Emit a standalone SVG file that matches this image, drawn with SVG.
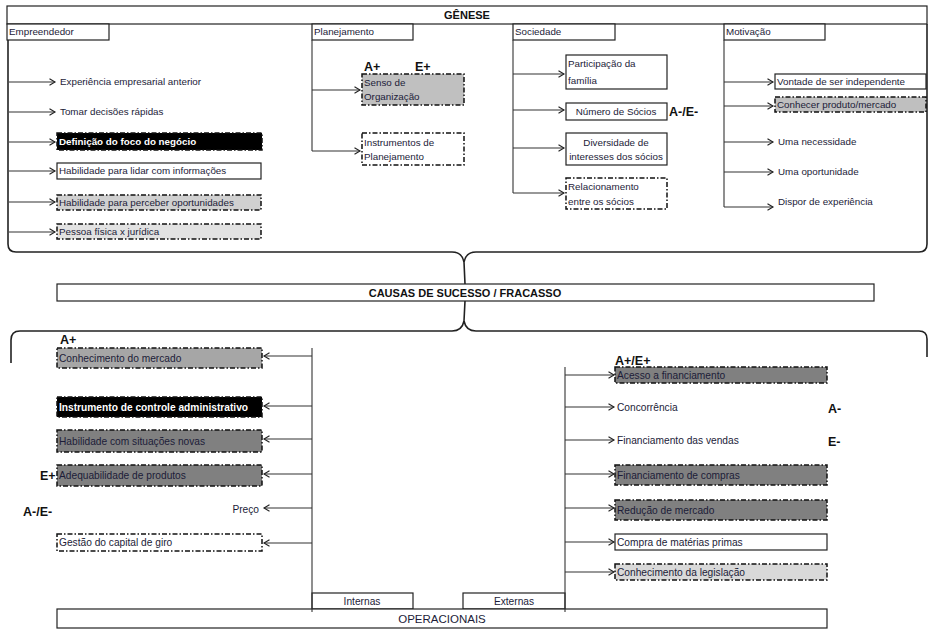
<svg xmlns="http://www.w3.org/2000/svg" width="929" height="630" viewBox="0 0 929 630">
<style>
.bg{fill:#fff}
.frame{fill:none;stroke:#222;stroke-width:1.6}
.hdr{fill:#fff;stroke:#222;stroke-width:1.2}
.solid{stroke:#222;stroke-width:1.2}
.dd{stroke:#111;stroke-width:1.5;stroke-dasharray:5 2 1.5 2}
.t{font-family:"Liberation Sans",Arial,sans-serif;font-size:9.8px;fill:#1c1c38}
.tb{font-family:"Liberation Sans",Arial,sans-serif;font-size:10.2px;fill:#1c1c38}
.w{fill:#fff;font-weight:bold}
.b{font-family:"Liberation Sans",Arial,sans-serif;font-weight:bold;font-size:12.5px;fill:#111}
.h{font-family:"Liberation Sans",Arial,sans-serif;font-weight:bold;font-size:11px;fill:#111}
.c{text-anchor:middle}
#connectors line{stroke:#333;stroke-width:1.1}
</style>
<defs>
<marker id="ah" markerWidth="8" markerHeight="8" refX="6" refY="4" orient="auto" markerUnits="userSpaceOnUse"><path d="M0.5,0.8 L6,4 L0.5,7.2" fill="none" stroke="#222" stroke-width="1.1"/></marker>
</defs>
<rect class="bg" width="929" height="630"/>

<g id="frames">
<path class="frame" d="M8,24 V244 Q8,252 16,252 H452 Q462,252 464,262 L465,284 M464,262 Q466,252 476,252 H919 Q927,252 927,244 V24"/>
<path class="frame" d="M465,301 L464,321 Q462,331 452,331 H20 Q11,331 11,340 V363 M464,321 Q466,331 476,331 H919 Q927,331 927,339 V357"/>
</g>

<g id="genese"><rect class="hdr" x="7" y="6" width="920" height="18"/><text class="h c" x="467" y="19">GÊNESE</text></g>
<g id="empreendedor"><rect class="hdr" x="7" y="24" width="102" height="16"/><text class="t" x="9" y="35">Empreendedor</text></g>
<g id="planejamento"><rect class="hdr" x="312" y="24" width="101" height="16"/><text class="t" x="314" y="35">Planejamento</text></g>
<g id="sociedade"><rect class="hdr" x="513" y="24" width="102" height="16"/><text class="t" x="515" y="35">Sociedade</text></g>
<g id="motivacao"><rect class="hdr" x="724" y="24" width="101" height="16"/><text class="t" x="726" y="35">Motivação</text></g>

<g id="e1"><text class="t" x="60" y="85">Experiência empresarial anterior</text></g>
<g id="e2"><text class="t" x="60" y="115">Tomar decisões rápidas</text></g>
<g id="e3"><rect class="dd" x="57" y="133" width="205" height="17" fill="#000"/><text class="t w" x="59" y="145">Definição do foco do negócio</text></g>
<g id="e4"><rect class="solid" x="57" y="163" width="204" height="16" fill="#fff"/><text class="t" x="59" y="174">Habilidade para lidar com informações</text></g>
<g id="e5"><rect class="dd" x="57" y="195" width="204" height="15" fill="#d0d0d0"/><text class="t" x="59" y="206">Habilidade para perceber oportunidades</text></g>
<g id="e6"><rect class="dd" x="57" y="224" width="204" height="15" fill="#e2e2e2"/><text class="t" x="59" y="235">Pessoa física x jurídica</text></g>

<g id="p1"><text class="b" x="364" y="71">A+</text><text class="b" x="415" y="71">E+</text><rect class="dd" x="362" y="74" width="102" height="31" fill="#c0c0c0"/><text class="t" x="364" y="86">Senso de</text><text class="t" x="364" y="100">Organização</text></g>
<g id="p2"><rect class="dd" x="362" y="133" width="102" height="32" fill="#fff"/><text class="t" x="364" y="146">Instrumentos de</text><text class="t" x="364" y="160">Planejamento</text></g>

<g id="s1"><rect class="solid" x="566" y="55" width="101" height="34" fill="#fff"/><text class="t" x="568" y="67">Participação da</text><text class="t" x="568" y="84">família</text></g>
<g id="s2"><rect class="solid" x="566" y="103" width="101" height="17" fill="#fff"/><text class="t c" x="616" y="115">Número de Sócios</text><text class="b" x="669" y="116">A-/E-</text></g>
<g id="s3"><rect class="solid" x="566" y="133" width="101" height="32" fill="#fff"/><text class="t c" x="616" y="146">Diversidade de</text><text class="t c" x="616" y="160">interesses dos sócios</text></g>
<g id="s4"><rect class="dd" x="566" y="178" width="101" height="31" fill="#fff"/><text class="t" x="568" y="190">Relacionamento</text><text class="t" x="568" y="205">entre os sócios</text></g>

<g id="m1"><rect class="solid" x="775" y="74" width="151" height="15" fill="#fff"/><text class="t" x="777" y="85">Vontade de ser independente</text></g>
<g id="m2"><rect class="dd" x="775" y="97" width="151" height="15" fill="#bfbfbf"/><text class="t" x="777" y="108">Conhecer produto/mercado</text></g>
<g id="m3"><text class="t" x="778" y="145">Uma necessidade</text></g>
<g id="m4"><text class="t" x="778" y="175">Uma oportunidade</text></g>
<g id="m5"><text class="t" x="778" y="205">Dispor de experiência</text></g>

<g id="causas"><rect class="hdr" x="57" y="284" width="817" height="17"/><text class="h c" x="465" y="297">CAUSAS DE SUCESSO / FRACASSO</text></g>

<g id="i1"><text class="b" x="60" y="344">A+</text><rect class="dd" x="57" y="348" width="205" height="20" fill="#a6a6a6"/><text class="tb" x="59" y="362">Conhecimento do mercado</text></g>
<g id="i2"><rect class="dd" x="57" y="397" width="205" height="20" fill="#000"/><text class="tb w" x="59" y="411">Instrumento de controle administrativo</text></g>
<g id="i3"><rect class="dd" x="57" y="430" width="205" height="22" fill="#808080"/><text class="tb" x="59" y="445">Habilidade com situações novas</text></g>
<g id="i4"><text class="b" x="40" y="480">E+</text><rect class="dd" x="57" y="465" width="205" height="21" fill="#808080"/><text class="tb" x="59" y="479">Adequabilidade de produtos</text></g>
<g id="i5"><text class="b" x="23" y="516">A-/E-</text><text class="tb" x="259" y="513" text-anchor="end">Preço</text></g>
<g id="i6"><rect class="dd" x="57" y="534" width="205" height="17" fill="#fff"/><text class="tb" x="59" y="546">Gestão do capital de giro</text></g>

<g id="x1"><text class="b" x="615" y="365">A+/E+</text><rect class="dd" x="615" y="367" width="212" height="16" fill="#808080"/><text class="tb" x="617" y="379">Acesso a financiamento</text></g>
<g id="x2"><text class="tb" x="617" y="411">Concorrência</text><text class="b" x="828" y="413">A-</text></g>
<g id="x3"><text class="tb" x="617" y="444">Financiamento das vendas</text><text class="b" x="828" y="446">E-</text></g>
<g id="x4"><rect class="dd" x="615" y="465" width="212" height="20" fill="#808080"/><text class="tb" x="617" y="479">Financiamento de compras</text></g>
<g id="x5"><rect class="dd" x="615" y="500" width="212" height="20" fill="#808080"/><text class="tb" x="617" y="514">Redução de mercado</text></g>
<g id="x6"><rect class="solid" x="615" y="534" width="212" height="16" fill="#fff"/><text class="tb" x="617" y="546">Compra de matérias primas</text></g>
<g id="x7"><rect class="dd" x="615" y="564" width="212" height="16" fill="#d9d9d9"/><text class="tb" x="617" y="576">Conhecimento da legislação</text></g>

<g id="internas"><rect class="hdr" x="312" y="593" width="101" height="16"/><text class="tb c" x="362" y="605">Internas</text></g>
<g id="externas"><rect class="hdr" x="463" y="593" width="102" height="16"/><text class="tb c" x="514" y="605">Externas</text></g>
<g id="operacionais"><rect class="hdr" x="57" y="609" width="770" height="19"/><text class="tb c" x="442" y="623" style="font-size:11.5px">OPERACIONAIS</text></g>

<g id="connectors">
<line x1="9" y1="82" x2="55" y2="82" marker-end="url(#ah)"/>
<line x1="9" y1="112" x2="55" y2="112" marker-end="url(#ah)"/>
<line x1="9" y1="142" x2="55" y2="142" marker-end="url(#ah)"/>
<line x1="9" y1="171" x2="55" y2="171" marker-end="url(#ah)"/>
<line x1="9" y1="202" x2="55" y2="202" marker-end="url(#ah)"/>
<line x1="9" y1="232" x2="55" y2="232" marker-end="url(#ah)"/>
<line x1="312" y1="40" x2="312" y2="151"/>
<line x1="312" y1="90" x2="360" y2="90" marker-end="url(#ah)"/>
<line x1="312" y1="151" x2="360" y2="151" marker-end="url(#ah)"/>
<line x1="513" y1="40" x2="513" y2="193"/>
<line x1="513" y1="74" x2="564" y2="74" marker-end="url(#ah)"/>
<line x1="513" y1="110" x2="564" y2="110" marker-end="url(#ah)"/>
<line x1="513" y1="148" x2="564" y2="148" marker-end="url(#ah)"/>
<line x1="513" y1="193" x2="564" y2="193" marker-end="url(#ah)"/>
<line x1="724" y1="40" x2="724" y2="207"/>
<line x1="724" y1="82" x2="773" y2="82" marker-end="url(#ah)"/>
<line x1="724" y1="106" x2="773" y2="106" marker-end="url(#ah)"/>
<line x1="724" y1="142" x2="773" y2="142" marker-end="url(#ah)"/>
<line x1="724" y1="172" x2="773" y2="172" marker-end="url(#ah)"/>
<line x1="724" y1="207" x2="773" y2="207" marker-end="url(#ah)"/>
<line x1="312" y1="348" x2="312" y2="612"/>
<line x1="312" y1="356" x2="264" y2="356" marker-end="url(#ah)"/>
<line x1="312" y1="406" x2="264" y2="406" marker-end="url(#ah)"/>
<line x1="312" y1="439" x2="264" y2="439" marker-end="url(#ah)"/>
<line x1="312" y1="474" x2="264" y2="474" marker-end="url(#ah)"/>
<line x1="312" y1="508" x2="264" y2="508" marker-end="url(#ah)"/>
<line x1="312" y1="543" x2="264" y2="543" marker-end="url(#ah)"/>
<line x1="565" y1="367" x2="565" y2="612"/>
<line x1="565" y1="375" x2="614" y2="375" marker-end="url(#ah)"/>
<line x1="565" y1="407" x2="614" y2="407" marker-end="url(#ah)"/>
<line x1="565" y1="440" x2="614" y2="440" marker-end="url(#ah)"/>
<line x1="565" y1="474" x2="614" y2="474" marker-end="url(#ah)"/>
<line x1="565" y1="508" x2="614" y2="508" marker-end="url(#ah)"/>
<line x1="565" y1="542" x2="614" y2="542" marker-end="url(#ah)"/>
<line x1="565" y1="572" x2="614" y2="572" marker-end="url(#ah)"/>
</g>
</svg>
